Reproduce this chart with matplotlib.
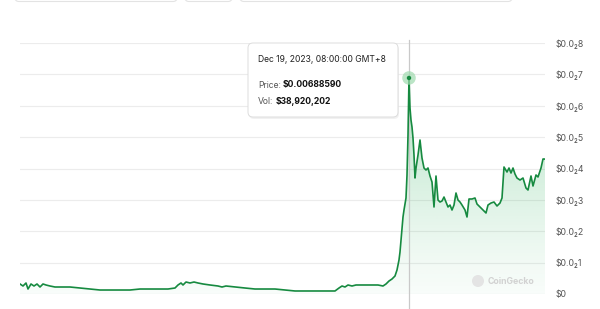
import matplotlib
matplotlib.use("Agg")
import matplotlib.pyplot as plt
import numpy as np
from matplotlib.patches import FancyBboxPatch, Circle

plt.rcParams['font.family'] = ['Inter', 'DejaVu Sans']

# ---- data (day offset, price in USD) ----
days = [0, 3, 6, 8, 11, 14, 17, 20, 23, 26, 30, 35, 42, 50, 60, 70, 80, 90, 100, 110,
        120, 130, 140, 148, 155, 158, 161, 163, 166, 170, 174, 178, 183, 190, 198, 202,
        206, 215, 225, 235, 245, 255, 265, 275, 285, 295, 305, 315, 319, 322, 325, 328,
        332, 336, 342, 350, 358, 363, 366, 369, 372, 375, 377, 379, 380, 381, 382, 383,
        384, 386, 387, 388, 389, 390, 391, 392, 393, 394, 395, 396, 398, 400, 402, 404,
        406, 408, 410, 412, 414, 416, 418, 420, 422, 424, 426, 428, 430, 432, 434, 436,
        438, 440, 442, 445, 447, 449, 452, 455, 457, 460, 463, 466, 468, 471, 474, 477,
        480, 482, 484, 487, 489, 491, 493, 495, 497, 500, 503, 506, 508, 511, 513, 516,
        518, 521, 523, 525]
price_k = [0.319, 0.255, 0.351, 0.159, 0.319, 0.255, 0.319, 0.223, 0.319, 0.287, 0.255,
           0.223, 0.223, 0.223, 0.191, 0.159, 0.127, 0.127, 0.127, 0.127, 0.159, 0.159,
           0.159, 0.159, 0.191, 0.287, 0.351, 0.287, 0.382, 0.351, 0.382, 0.351, 0.319,
           0.287, 0.255, 0.223, 0.255, 0.223, 0.191, 0.159, 0.159, 0.159, 0.127, 0.096,
           0.096, 0.096, 0.096, 0.096, 0.191, 0.255, 0.223, 0.287, 0.255, 0.287, 0.287,
           0.287, 0.287, 0.255, 0.319, 0.414, 0.478, 0.574, 0.765, 1.084, 1.339, 1.721,
           2.103, 2.454, 2.677, 3.060, 3.793, 5.067, 6.8859, 5.928, 5.545, 5.322, 4.972,
           4.430, 3.697, 4.016, 4.430, 4.908, 4.334, 4.016, 3.952, 4.016, 3.761, 3.569,
           2.773, 3.761, 2.996, 2.932, 2.964, 3.091, 2.932, 2.773, 2.836, 2.677, 2.836,
           3.219, 2.996, 2.932, 2.836, 2.677, 2.454, 3.028, 3.028, 3.060, 2.868, 2.773,
           2.677, 2.582, 2.836, 2.900, 2.932, 2.805, 2.900, 3.060, 4.048, 3.888, 4.016,
           3.856, 4.016, 3.824, 3.697, 3.633, 3.697, 3.378, 3.315, 3.761, 3.442, 3.793,
           3.729, 4.016, 4.303, 4.30]
price = [p / 1000.0 for p in price_k]

ytick_vals = [0, 0.001, 0.002, 0.003, 0.004, 0.005, 0.006, 0.007, 0.008]
ytick_labels = ["\\$0", "\\$0.0\u20821", "\\$0.0\u20822", "\\$0.0\u20823", "\\$0.0\u20824",
                "\\$0.0\u20825", "\\$0.0\u20826", "\\$0.0\u20827", "\\$0.0\u20828"]

hover_day = 389
hover_price = 0.0068859
tip_date = "Dec 19, 2023, 08:00:00 GMT+8"
tip_price = "\\$0.00688590"
tip_vol = "\\$38,920,202"

W, H = 600, 309
fig = plt.figure(figsize=(6, 3.09), dpi=100)
fig.patch.set_facecolor("white")

ax = fig.add_axes([20 / W, (H - 294) / H, 525 / W, 251 / H])
line_c = "#168a40"

ax.set_xlim(0, 525)
ax.set_ylim(0, 0.008)

# gradient fill
poly = ax.fill_between(days, price, 0, color="none", lw=0)
grad = np.linspace(0, 1, 256).reshape(-1, 1)
rgba = np.zeros((256, 1, 4))
rgba[..., 0] = 0x16 / 255
rgba[..., 1] = 0xa8 / 255
rgba[..., 2] = 0x4a / 255
rgba[..., 3] = 0.03 + 0.30 * grad[:, :] ** 1.2
im = ax.imshow(rgba, aspect="auto", origin="lower",
               extent=[0, 525, 0, max(price)], zorder=1, interpolation="bilinear")
path = poly.get_paths()[0]
im.set_clip_path(path, transform=ax.transData)

ax.plot(days, price, color=line_c, lw=1.2, zorder=3, solid_joinstyle="round")

# grid & ticks
ax.set_yticks(ytick_vals)
ax.set_yticklabels(ytick_labels)
ax.yaxis.tick_right()
ax.tick_params(axis="y", length=0, pad=7.5, labelsize=6.3, labelcolor="#555555")
for t in ax.get_yticklabels():
    t.set_horizontalalignment("left")
ax.set_xticks([])
ax.grid(axis="y", color="#ececec", lw=0.8)
ax.set_axisbelow(True)
for s in ax.spines.values():
    s.set_visible(False)

# crosshair + hover marker
ax.axvline(hover_day, ymin=-0.07, ymax=1.013, color="#c9c9c9", lw=0.9,
           clip_on=False, zorder=2)
ax.scatter([hover_day], [hover_price], s=95, color="#9fdaae", alpha=0.7,
           zorder=4, clip_on=False, edgecolors="none")
ax.scatter([hover_day], [hover_price], s=10, color=line_c, zorder=5,
           clip_on=False, edgecolors="none")

# overlay in pixel coordinates
ov = fig.add_axes([0, 0, 1, 1], facecolor="none")
ov.set_xlim(0, W)
ov.set_ylim(H, 0)
ov.axis("off")

# top UI remnants
for x0, x1 in [(15, 177), (185, 232), (240, 512)]:
    ov.add_patch(FancyBboxPatch((x0, -12), x1 - x0, 13.5,
                                boxstyle="round,pad=0,rounding_size=4",
                                fc="white", ec="#e3e3e3", lw=0.8))

# tooltip
ov.add_patch(FancyBboxPatch((249, 45), 150, 74,
                            boxstyle="round,pad=0,rounding_size=5",
                            fc="#e9e9e9", ec="none", alpha=0.6, zorder=6))
ov.add_patch(FancyBboxPatch((248, 43), 150, 74,
                            boxstyle="round,pad=0,rounding_size=5",
                            fc="white", ec="#dddddd", lw=0.7, zorder=7))
ov.text(258, 60, tip_date, fontsize=6.2, color="#222222", va="center",
        ha="left", zorder=8)
ov.text(258, 85, "Price:", fontsize=6.2, color="#555555", va="center",
        ha="left", zorder=8)
ov.text(283, 85, tip_price, fontsize=6.2, color="#111111", va="center",
        ha="left", weight="bold", zorder=8)
ov.text(258, 101, "Vol:", fontsize=6.2, color="#555555", va="center",
        ha="left", zorder=8)
ov.text(276, 101, tip_vol, fontsize=6.2, color="#111111", va="center",
        ha="left", weight="bold", zorder=8)

# watermark
ov.add_patch(Circle((478, 281), 6, fc="#e4e4e4", ec="none", zorder=3))
ov.text(488, 281, "CoinGecko", fontsize=6.3, color="#d2d2d2", va="center",
        ha="left", weight="bold", zorder=3)

fig.savefig("out.png", dpi=100, facecolor="white")
